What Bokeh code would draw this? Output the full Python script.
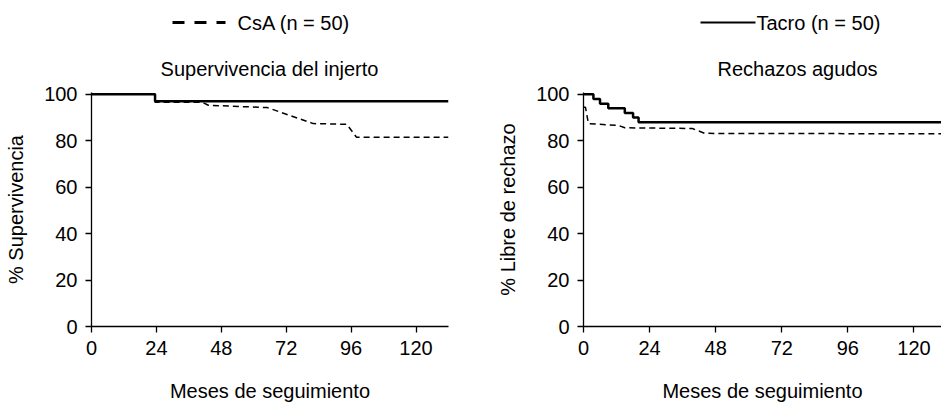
from bokeh.plotting import figure
from bokeh.models import Range1d, FixedTicker
from bokeh.core.properties import value
from bokeh.layouts import row, column
from bokeh.embed import file_html
from bokeh.resources import INLINE

FONT = "Liberation Sans"
FS = "20px"

# ---- data ----
x_ticks = [0, 24, 48, 72, 96, 120]
y_ticks = [0, 20, 40, 60, 80, 100]

surv_tacro_x = [0, 23.5, 23.5, 132]
surv_tacro_y = [100, 100, 97, 97]
surv_csa_x = [0, 23.5, 23.5, 41, 43.2, 65, 82, 94.4, 98, 132]
surv_csa_y = [100, 100, 96.6, 96.6, 95.3, 94.3, 87.4, 87.1, 81.5, 81.5]

rej_tacro_x = [0, 3.6, 3.6, 6, 6, 9, 9, 15, 15, 18, 18, 20, 20, 130]
rej_tacro_y = [100, 100, 98, 98, 96, 96, 94, 94, 92, 92, 90, 90, 88, 88]
rej_csa_x = [0, 0.7, 1.8, 12.7, 15, 39.5, 44, 130]
rej_csa_y = [94.5, 94.5, 87.4, 86.6, 85.6, 85.3, 83.2, 83.0]

titles = ["Supervivencia del injerto", "Rechazos agudos"]
ylabels = ["% Supervivencia", "% Libre de rechazo"]
xlabel = "Meses de seguimiento"
leg_labels = ["CsA (n = 50)", "Tacro (n = 50)"]

# ---- header (titles + legend keys), pixel coordinates ----
hdr = figure(width=941, height=80, output_backend="svg", toolbar_location=None,
             x_range=Range1d(0, 941), y_range=Range1d(80, 0),
             x_axis_location=None, y_axis_location=None, min_border=0)
hdr.outline_line_color = None
hdr.grid.visible = False
hdr.segment(x0=[172], y0=[22], x1=[225], y1=[22], line_color="black",
            line_width=3, line_dash="12 10")
hdr.segment(x0=[700], y0=[22], x1=[755], y1=[22], line_color="black", line_width=2)
hdr.text(x=[237, 756], y=[22, 22], text=leg_labels, text_font=value(FONT),
         text_font_size=FS, text_baseline="middle", text_align="left", text_color="black")
hdr.text(x=[269, 797], y=[68, 68], text=titles, text_font=value(FONT),
         text_font_size=FS, text_baseline="alphabetic", text_align="center",
         text_color="black")


def make_fig(width, bl, br, xmax, ylabel):
    p = figure(width=width, height=330, output_backend="svg", toolbar_location=None,
               x_range=Range1d(0, xmax), y_range=Range1d(0, 100.8),
               min_border_left=bl, min_border_right=br, min_border_top=12, min_border_bottom=84)
    p.outline_line_color = None
    p.grid.visible = False
    p.background_fill_color = "white"
    p.border_fill_color = "white"
    for ax in (p.xaxis[0], p.yaxis[0]):
        ax.axis_line_color = "black"
        ax.axis_line_width = 1.3
        ax.major_tick_line_color = "black"
        ax.major_tick_line_width = 1.3
        ax.major_tick_in = 0
        ax.major_tick_out = 6
        ax.minor_tick_line_color = None
        ax.major_label_text_font = FONT
        ax.major_label_text_font_size = FS
        ax.major_label_text_color = "black"
        ax.axis_label_text_font = FONT
        ax.axis_label_text_font_size = FS
        ax.axis_label_text_font_style = "normal"
        ax.axis_label_text_color = "black"
    p.xaxis.ticker = FixedTicker(ticks=x_ticks)
    p.yaxis.ticker = FixedTicker(ticks=y_ticks)
    p.xaxis.axis_label = xlabel
    p.yaxis.axis_label = ylabel
    p.xaxis.major_label_standoff = 8
    p.xaxis.axis_label_standoff = 22
    p.yaxis.major_label_standoff = 8
    p.yaxis.axis_label_standoff = 14
    return p


p1 = make_fig(480, 91, 32, 132, ylabels[0])
p1.line(surv_csa_x, surv_csa_y, line_color="black", line_width=1.5, line_dash="6 4")
p1.line(surv_tacro_x, surv_tacro_y, line_color="black", line_width=2.5)

p2 = make_fig(461, 103, 0, 130, ylabels[1])
p2.line(rej_csa_x, rej_csa_y, line_color="black", line_width=1.5, line_dash="6 4")
p2.line(rej_tacro_x, rej_tacro_y, line_color="black", line_width=2.5)

layout = column(hdr, row(p1, p2))
open("out.html", "w").write(file_html(layout, INLINE))
